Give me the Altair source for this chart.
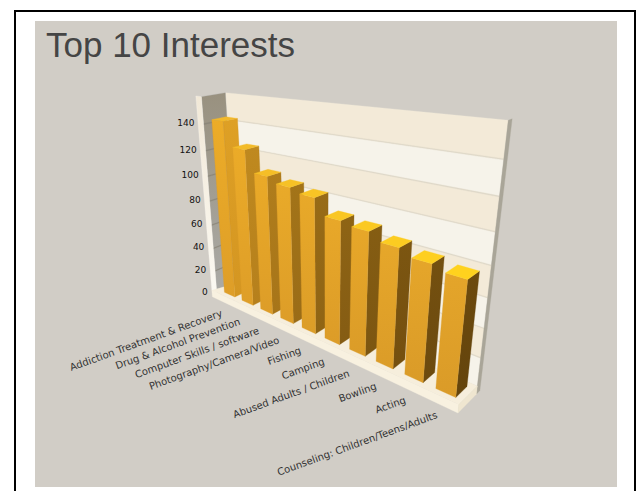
import altair as alt
import numpy as np

categories = ["Addiction Treatment & Recovery", "Drug & Alcohol Prevention", "Computer Skills / software",
              "Photography/Camera/Video", "Fishing", "Camping", "Abused Adults / Children",
              "Bowling", "Acting", "Counseling: Children/Teens/Adults"]
values = [143, 125, 109, 105, 102, 91, 89, 84, 80, 77]
value_ticks = [0, 20, 40, 60, 80, 100, 120, 140]
axis_top = 160

# Camera fit: (slot along category axis, depth, value) -> page position
camera_u = [10, 10, 10, 0, 0, 0.2, 0.8, 9.2, 9.8, 9.8, 8.2, 8.8, 10, 10, 10, 0, 0, 0.2, 0.8, 0.8]
camera_d = [0, 1, 1, 1, 0, 0.2, 0.2, 0.2, 0.2, 0.8, 0.2, 0.2, 1, 1, 1, 1, 0, 0.2, 0.2, 0.8]
camera_h = [0, 0, 160, 160, 160, 0, 0, 0, 0, 0, 0, 0, 140, 80, 40, 140, 0, 141, 141, 141]
camera_x = [459, 476, 508, 225, 201, 225, 235, 436, 456, 467, 404, 423, 505, 492, 484, 227, 217, 212, 223, 238]
camera_y = [405, 387, 123, 96, 99, 293, 297, 388, 398, 387, 374, 382, 158, 264, 328, 117, 293, 120, 123, 120]

rows, rhs = [], []
for u, d, h, x, y in zip(camera_u, camera_d, camera_h, camera_x, camera_y):
    rows.append([u, d, h, 1, 0, 0, 0, 0, -x * u, -x * d, -x * h])
    rhs.append(x)
    rows.append([0, 0, 0, 0, u, d, h, 1, -y * u, -y * d, -y * h])
    rhs.append(y)
cam = np.append(np.linalg.lstsq(np.array(rows, float), np.array(rhs, float), rcond=None)[0], 1.0).reshape(3, 4)

geo = dict(type="identity", scale=1, translate=[0, 0])


def project(u, d, h):
    p = cam @ np.array([u, d, h, 1.0])
    return [float(p[0] / p[2]), float(p[1] / p[2])]


def mix(a, b, t):
    return "#%02x%02x%02x" % tuple(int(round(p + (q - p) * t)) for p, q in zip(a, b))


def feature(pts, fill):
    ring = [project(*p) for p in pts]
    return {"type": "Feature", "properties": {"fill": fill},
            "geometry": {"type": "Polygon", "coordinates": [ring + [ring[0]]]}}


def flat_layer(faces):
    data = [feature(pts, fill) for pts, fill in faces]
    return alt.Chart(alt.Data(values=data)).mark_geoshape(strokeWidth=0.3).encode(
        fill=alt.Color("properties.fill:N", scale=None),
        stroke=alt.Stroke("properties.fill:N", scale=None)).project(**geo)


def shaded_layer(pts, top_color, bottom_color):
    # vertical gradient over one face
    paint = alt.LinearGradient(gradient="linear", x1=0, x2=0, y1=0, y2=1,
                               stops=[alt.GradientStop(color=top_color, offset=0),
                                      alt.GradientStop(color=bottom_color, offset=1)])
    return alt.Chart(alt.Data(values=[feature(pts, top_color)])).mark_geoshape(
        fill=paint, stroke=bottom_color, strokeWidth=0.3).project(**geo)


WALL_T = 0.3
PLATE = -6
BANDS = list(range(0, axis_top, 20))
RULES = list(range(20, axis_top, 20))

scene = []
# back wall bands, their rules and the wall's side edge
back = [([(0, 1, k), (10, 1, k), (10, 1, k + 20), (0, 1, k + 20)],
         "#f6f3ea" if (k // 20) % 2 == 0 else "#f3ead8") for k in BANDS]
back += [([(0, 1, k - 0.3), (10, 1, k - 0.3), (10, 1, k + 0.3), (0, 1, k + 0.3)], "#e0d9ca") for k in RULES]
back.append(([(10, 1, PLATE), (10, 1.2, PLATE), (10, 1.2, axis_top), (10, 1, axis_top)], "#a9a598"))
scene.append(flat_layer(back))

# left wall and its front edge
scene.append(shaded_layer([(0, 0, 0), (0, 1, 0), (0, 1, axis_top), (0, 0, axis_top)], "#99917f", "#aaaaa6"))
scene.append(flat_layer([([(0, 0, k - 0.4), (0, 1, k - 0.4), (0, 1, k + 0.4), (0, 0, k + 0.4)], "#8d877b") for k in RULES]))
scene.append(shaded_layer([(-WALL_T, 0, 0), (0, 0, 0), (0, 0, axis_top), (-WALL_T, 0, axis_top)], "#f1e8d7", "#fbf9f2"))

# floor plate
scene.append(flat_layer([
    ([(-WALL_T, 0, 0), (10, 0, 0), (10, 1, 0), (0, 1, 0)], "#f6eedc"),
    ([(-WALL_T, 0, PLATE), (10, 0, PLATE), (10, 0, 0), (-WALL_T, 0, 0)], "#f8f1e0"),
    ([(10, 0, PLATE), (10, 1, PLATE), (10, 1, 0), (10, 0, 0)], "#efe6d0"),
]))

# bars, left to right so nearer bars cover farther ones
for i, v in enumerate(values):
    t = i / 9
    u0, u1, d0, d1 = i + 0.2, i + 0.8, 0.2, 0.8
    scene.append(shaded_layer([(u1, d0, 0), (u1, d1, 0), (u1, d1, v), (u1, d0, v)],
                              mix((222, 160, 37), (108, 74, 14), t ** 0.6),
                              mix((212, 150, 34), (100, 68, 12), t ** 0.6)))
    scene.append(shaded_layer([(u0, d0, 0), (u1, d0, 0), (u1, d0, v), (u0, d0, v)],
                              mix((236, 172, 40), (228, 165, 42), t),
                              mix((222, 158, 40), (218, 155, 40), t)))
    scene.append(flat_layer([([(u0, d0, v), (u1, d0, v), (u1, d1, v), (u0, d1, v)],
                              mix((242, 184, 42), (255, 210, 30), t))]))

one_row = alt.Data(values=[{"a": 0}])
panel = alt.Chart(one_row).mark_rect(color="#d1cdc6").encode(
    x=alt.value(35), x2=alt.value(617), y=alt.value(21), y2=alt.value(487))
frame_top = alt.Chart(one_row).mark_rect(color="#000000").encode(
    x=alt.value(14), x2=alt.value(636), y=alt.value(10), y2=alt.value(12))
frame_left = alt.Chart(one_row).mark_rect(color="#000000").encode(
    x=alt.value(14), x2=alt.value(16), y=alt.value(10), y2=alt.value(491))
frame_right = alt.Chart(one_row).mark_rect(color="#000000").encode(
    x=alt.value(634), x2=alt.value(636), y=alt.value(10), y2=alt.value(491))
title = alt.Chart(alt.Data(values=[{"t": "Top 10 Interests"}])).mark_text(
    font="Liberation Sans", fontSize=35, color="#454545", align="left", baseline="alphabetic").encode(
    x=alt.value(46), y=alt.value(57), text="t:N")

tick_rows = []
for val in value_ticks:
    lon, lat = project(0, 0, val)
    tick_rows.append({"lon": lon, "lat": lat, "label": str(val)})
ticks = alt.Chart(alt.Data(values=tick_rows)).mark_text(
    font="DejaVu Sans", fontSize=9, color="#111111", align="right", baseline="middle", dx=-9, dy=-1).encode(
    longitude="lon:Q", latitude="lat:Q", text="label:N").project(**geo)

cat_rows = []
for i, c in enumerate(categories):
    lon, lat = project(i + 0.5, 0, PLATE)
    cat_rows.append({"lon": lon, "lat": lat, "label": c})
cats = alt.Chart(alt.Data(values=cat_rows)).mark_text(
    font="DejaVu Sans", fontSize=10, color="#333333", align="right", baseline="middle", angle=340, dx=-7, dy=8).encode(
    longitude="lon:Q", latitude="lat:Q", text="label:N").project(**geo)

chart = alt.layer(panel, frame_top, frame_left, frame_right, title, *scene, ticks, cats).properties(
    width=641, height=491, padding=0, autosize=alt.AutoSizeParams(type="none"), background="#ffffff"
).configure_view(stroke=None)

chart.save("out.html", embed_options={"renderer": "svg", "actions": False})
